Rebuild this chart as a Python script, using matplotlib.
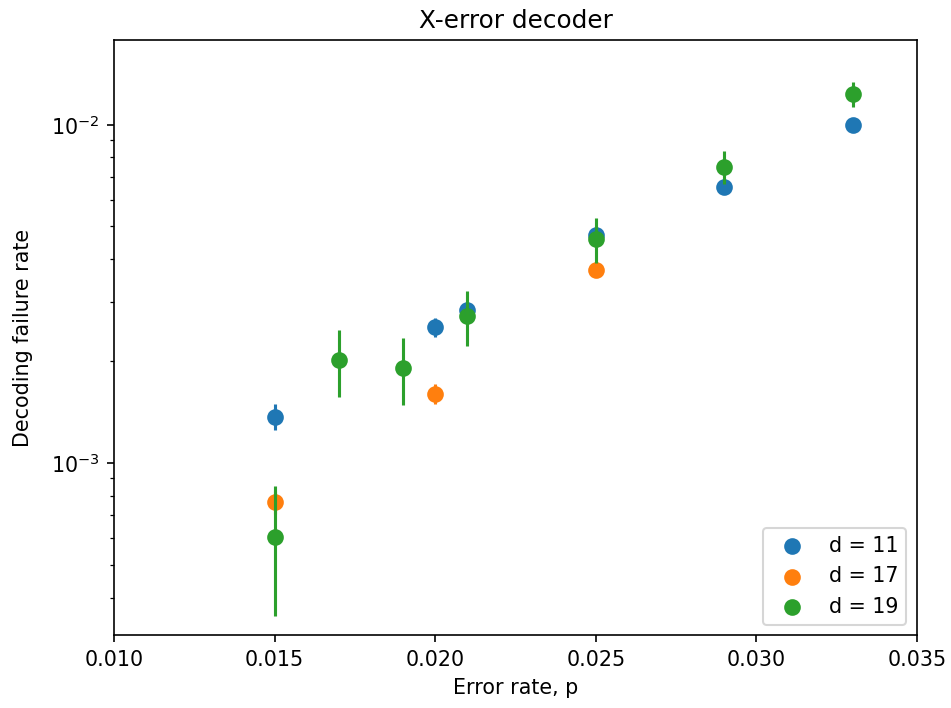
import numpy as np
import matplotlib
matplotlib.use("Agg")
import matplotlib.pyplot as plt

# d = 11
p11 = [0.015, 0.020, 0.021, 0.025, 0.029, 0.033]
f11 = [1.37e-3, 2.52e-3, 2.84e-3, 4.73e-3, 6.56e-3, 1.00e-2]
e11 = [1.2e-4, 1.7e-4, 1.0e-4, 1.0e-4, 1.2e-4, 1.5e-4]

# d = 17
p17 = [0.015, 0.020, 0.025]
f17 = [7.67e-4, 1.60e-3, 3.72e-3]
e17 = [6e-5, 1.1e-4, 1.0e-4]

# d = 19
p19 = [0.015, 0.017, 0.019, 0.021, 0.025, 0.029, 0.033]
f19 = [6.04e-4, 2.02e-3, 1.91e-3, 2.72e-3, 4.60e-3, 7.51e-3, 1.235e-2]
e19 = [2.5e-4, 4.5e-4, 4.3e-4, 5.0e-4, 7.0e-4, 8.5e-4, 1.05e-3]

series = [(p11, f11, e11, "d = 11", "C0"),
          (p17, f17, e17, "d = 17", "C1"),
          (p19, f19, e19, "d = 19", "C2")]

fig, ax = plt.subplots(figsize=(6.4, 4.765), dpi=148.6)
for p, f, e, lab, c in series:
    ax.errorbar(p, f, yerr=e, fmt="none", ecolor=c)
    ax.scatter(p, f, s=50, color=c, label=lab)

ax.set_yscale("log")
ax.set_xlim(0.010, 0.035)
ax.set_ylim(3.1e-4, 1.78e-2)
ax.set_xlabel("Error rate, p")
ax.set_ylabel("Decoding failure rate", labelpad=9)
ax.set_title("X-error decoder")
ax.legend(loc="lower right")
plt.subplots_adjust(left=0.12, right=0.964, top=0.9435, bottom=0.103)
plt.savefig("out.png")
